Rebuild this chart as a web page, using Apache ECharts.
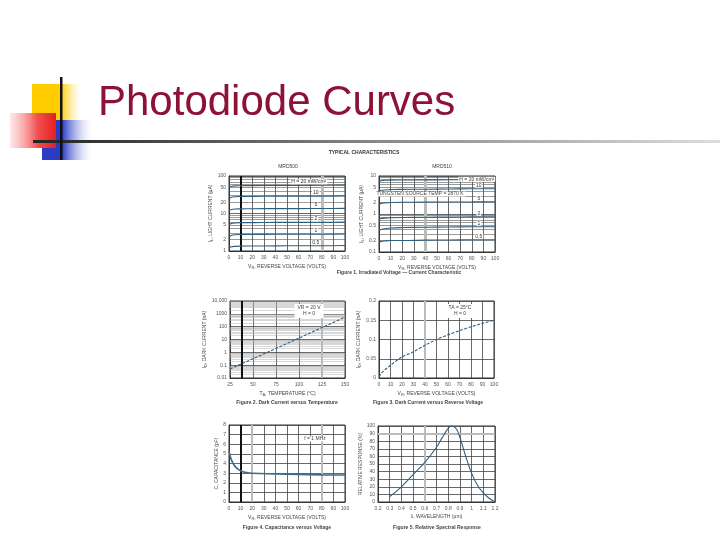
<!DOCTYPE html>
<html>
<head>
<meta charset="utf-8">
<script src="https://cdn.jsdelivr.net/npm/echarts@6/dist/echarts.min.js"></script>
<style>
  html, body { margin: 0; background: #fff; }
  #main { width: 720px; height: 540px; }
</style>
</head>
<body>
<div id="main"></div>
<script>
// Figure 1: light current vs reverse voltage (MRD500 / MRD510)
const vIrr = [0, 2, 5, 10, 20, 40, 60, 80, 100];
const irrNames = ['H = 20 mW/cm²', '10', '5', '2', '1', '0.5'];
const light500 = [
  [50, 53, 54.5, 55, 55.5, 56, 56, 56.5, 57],
  [25, 27, 28, 28.5, 28.5, 29, 29, 29, 29.5],
  [12, 12.8, 13.2, 13.3, 13.4, 13.5, 13.5, 13.6, 13.7],
  [5.0, 5.4, 5.6, 5.7, 5.7, 5.8, 5.8, 5.8, 5.9],
  [2.4, 2.6, 2.7, 2.75, 2.75, 2.8, 2.8, 2.8, 2.85],
  [1.2, 1.3, 1.33, 1.35, 1.36, 1.37, 1.38, 1.38, 1.4]
];
const light510 = [
  [7.0, 7.5, 7.7, 7.8, 7.85, 7.9, 7.95, 8.0, 8.0],
  [4.0, 4.2, 4.3, 4.4, 4.45, 4.5, 4.55, 4.6, 4.6],
  [1.8, 1.9, 1.95, 2.0, 2.03, 2.05, 2.07, 2.08, 2.1],
  [0.72, 0.76, 0.78, 0.8, 0.81, 0.82, 0.83, 0.84, 0.85],
  [0.37, 0.39, 0.41, 0.43, 0.44, 0.45, 0.455, 0.46, 0.46],
  [0.18, 0.19, 0.195, 0.2, 0.2, 0.205, 0.207, 0.21, 0.21]
];
const ticks500 = [1, 2, 5, 10, 20, 50, 100];
const ticks510 = [0.1, 0.2, 0.5, 1, 2, 5, 10];
const ticksDark = [0.01, 0.1, 1, 10, 100, 1000, 10000];

// Figure 2: dark current vs temperature
const temps = [25, 50, 75, 100, 125, 150];
const darkVsTemp = [0.05, 0.32, 2.0, 13, 85, 550];

// Figure 3: dark current vs reverse voltage
const vDark = [0, 2, 5, 10, 20, 30, 40, 50, 60, 70, 80, 90, 100];
const darkVsV = [0.003, 0.012, 0.021, 0.033, 0.055, 0.068, 0.085, 0.1, 0.112, 0.123, 0.133, 0.142, 0.15];

// Figure 4: capacitance vs voltage
const vCap = [0, 1, 2, 4, 6, 8, 10, 15, 20, 40, 60, 80, 100];
const capacitance = [5.3, 4.8, 4.4, 3.9, 3.6, 3.4, 3.25, 3.05, 2.98, 2.92, 2.87, 2.82, 2.8];

// Figure 5: relative spectral response
const wavelength = [0.3, 0.4, 0.5, 0.6, 0.7, 0.75, 0.8, 0.83, 0.87, 0.9, 0.95, 1.0, 1.05, 1.1, 1.15, 1.2];
const response = [7, 20, 36, 52, 72, 85, 97, 100, 96, 85, 60, 38, 22, 12, 5, 0];

const FONT = 'Liberation Sans';
const INK = '#444';
const CURVE = '#2f5f7f';

const grids = [
  { left: 229, top: 176, width: 116, height: 75 },
  { left: 379, top: 176, width: 116, height: 76 },
  { left: 230, top: 301, width: 115, height: 77 },
  { left: 379, top: 301, width: 115, height: 77 },
  { left: 229, top: 425, width: 116, height: 77 },
  { left: 378, top: 426, width: 117, height: 76 }
].map(g => ({ ...g, show: true, borderColor: '#333', borderWidth: 1 }));

const small = { fontSize: 5, color: '#555', fontFamily: FONT };
const nameStyle = {
  fontSize: 5, color: INK, fontFamily: FONT,
  rich: { s: { fontSize: 4, color: INK, fontFamily: FONT, padding: [3, 0, 0, 0] } }
};

function xAx(i, min, max, interval, name) {
  return {
    gridIndex: i, type: 'value', min, max, interval,
    name, nameLocation: 'middle', nameGap: 12, nameTextStyle: nameStyle,
    axisLine: { lineStyle: { color: '#333' } }, axisTick: { show: false },
    axisLabel: { ...small, margin: 4, formatter: v => String(+v.toFixed(2)) },
    splitLine: { show: true, lineStyle: { color: '#444', width: 0.8 } }
  };
}
function yAx(i, opts, name, gap, ticks) {
  const label = { ...small, margin: 3 };
  if (ticks) {
    // log axes: only decade ticks come from the axis, the rest from markLine labels
    label.formatter = v => {
      const r = +v.toPrecision(3);
      if (!ticks.includes(r)) return '';
      return r >= 10000 ? r.toLocaleString('en-US') : String(r);
    };
  }
  return {
    gridIndex: i, ...opts,
    name, nameLocation: 'middle', nameGap: gap, nameRotate: 90, nameTextStyle: nameStyle,
    axisLine: { lineStyle: { color: '#333' } }, axisTick: { show: false },
    axisLabel: label,
    minorTick: { show: false }, minorSplitLine: { show: false },
    splitLine: { show: true, lineStyle: { color: '#444', width: 0.8 } }
  };
}

// extra horizontal log grid lines (2..9 per decade), labelled if listed in ticks
function minorLines(lo, hi, ticks, color, width) {
  const out = [];
  for (let d = lo; d < hi * 0.99; d *= 10) {
    for (let m = 2; m <= 9; m++) {
      const v = +(d * m).toPrecision(3);
      const lab = ticks.includes(v);
      out.push({
        yAxis: v,
        lineStyle: { color, width, type: 'solid' },
        label: lab ? { show: true, position: 'start', distance: 3, formatter: String(v), ...small } : { show: false }
      });
    }
  }
  return out;
}
function bands(list) {
  return list.map(b => ({
    [b.axis]: b.v,
    lineStyle: { color: b.c, width: b.w, type: 'solid' },
    label: { show: false }
  }));
}
function guide(i, data) {
  return {
    type: 'line', xAxisIndex: i, yAxisIndex: i, data: [], silent: true,
    markLine: { symbol: ['none', 'none'], silent: true, animation: false, data }
  };
}
function curve(i, xs, ys, opt = {}) {
  return {
    type: 'line', xAxisIndex: i, yAxisIndex: i, smooth: opt.smooth ?? 0.3,
    symbol: 'circle', symbolSize: 0.1, showSymbol: true, z: 5,
    itemStyle: { color: 'rgba(0,0,0,0)' },
    label: { show: false },
    lineStyle: { color: opt.color || CURVE, width: opt.width || 1.1, type: opt.type || 'solid' },
    data: xs.map((x, k) => {
      if (opt.labelAt === x) {
        return {
          value: [x, ys[k]],
          label: {
            show: true, position: 'top', distance: 1, formatter: opt.label,
            offset: opt.offset || [0, 0], fontSize: 5, color: '#333', fontFamily: FONT,
            backgroundColor: '#fff', padding: [0, 1]
          }
        };
      }
      return [x, ys[k]];
    })
  };
}

const series = [
  guide(0, minorLines(1, 100, ticks500, '#555', 0.6).concat(bands([
    { axis: 'xAxis', v: 10, c: '#111', w: 2 },
    { axis: 'xAxis', v: 80, c: '#bbb', w: 3 }
  ]))),
  guide(1, minorLines(0.1, 10, ticks510, '#555', 0.6).concat(bands([
    { axis: 'xAxis', v: 40, c: '#bbb', w: 3 }
  ]))),
  guide(2, minorLines(0.01, 10000, ticksDark, '#b0b0b0', 0.5).concat(bands([
    { axis: 'xAxis', v: 37.5, c: '#111', w: 2 },
    { axis: 'xAxis', v: 125, c: '#bbb', w: 2 }
  ]))),
  guide(3, bands([{ axis: 'xAxis', v: 40, c: '#bbb', w: 2 }])),
  guide(4, bands([
    { axis: 'xAxis', v: 10, c: '#111', w: 2 },
    { axis: 'xAxis', v: 20, c: '#bbb', w: 2 },
    { axis: 'xAxis', v: 80, c: '#bbb', w: 2 }
  ])),
  guide(5, bands([
    { axis: 'xAxis', v: 0.6, c: '#bbb', w: 2 },
    { axis: 'yAxis', v: 90, c: '#bbb', w: 2 }
  ]))
];

light500.forEach((ys, k) => {
  series.push(curve(0, vIrr, ys, { labelAt: 80, label: irrNames[k], offset: k === 0 ? [-13, 0] : [-6, 0] }));
});
light510.forEach((ys, k) => {
  series.push(curve(1, vIrr, ys, { labelAt: 80, label: irrNames[k], offset: k === 0 ? [5, 3] : [7, 0] }));
});
series.push(curve(2, temps, darkVsTemp, { smooth: false, type: [3, 1.5] }));
series.push(curve(3, vDark, darkVsV, { type: [3, 1.5] }));
series.push(curve(4, vCap, capacitance, { color: '#3d6d87', width: 1.6, smooth: 0.4 }));
series.push(curve(5, wavelength, response, { smooth: 0.4 }));

function txt(x, y, text, o = {}) {
  return {
    type: 'text', x, y, z: 20,
    style: {
      text, fontSize: o.size || 5, fontFamily: FONT, fill: o.fill || INK,
      fontWeight: o.bold ? 'bold' : 'normal',
      align: o.align || 'center', verticalAlign: 'middle',
      backgroundColor: o.bg, padding: o.pad, lineHeight: o.lh
    }
  };
}

const graphic = [
  // slide decoration
  { type: 'rect', shape: { x: 32, y: 84, width: 48, height: 36 },
    style: { fill: new echarts.graphic.LinearGradient(0, 0, 1, 0, [
      { offset: 0, color: '#FFCC00' }, { offset: 0.6, color: '#FFCC00' }, { offset: 1, color: 'rgba(255,230,120,0)' }]) } },
  { type: 'rect', shape: { x: 42, y: 120, width: 50, height: 40 },
    style: { fill: new echarts.graphic.LinearGradient(0, 0, 1, 0, [
      { offset: 0, color: '#2B3BC4' }, { offset: 0.4, color: '#2B3BC4' }, { offset: 1, color: 'rgba(200,205,240,0)' }]) } },
  { type: 'rect', shape: { x: 10, y: 113, width: 46, height: 35 },
    style: { fill: new echarts.graphic.LinearGradient(0, 0, 1, 0, [
      { offset: 0, color: 'rgba(255,215,215,0.6)' }, { offset: 0.6, color: '#F05050' }, { offset: 1, color: '#E51E1E' }]) } },
  { type: 'rect', shape: { x: 33, y: 140, width: 687, height: 3 },
    style: { fill: new echarts.graphic.LinearGradient(0, 0, 1, 0, [
      { offset: 0, color: '#222' }, { offset: 0.5, color: '#888' }, { offset: 1, color: '#ddd' }]) } },
  { type: 'rect', shape: { x: 60, y: 77, width: 2.5, height: 83 }, style: { fill: '#111' } },
  txt(98, 103, 'Photodiode Curves', { size: 42, fill: '#8C1238', align: 'left' }),

  // datasheet headings
  txt(364, 153, 'TYPICAL CHARACTERISTICS', { bold: true, fill: '#333' }),
  txt(288, 167, 'MRD500'),
  txt(442, 167, 'MRD510'),
  txt(420, 194, 'TUNGSTEN SOURCE TEMP = 2870 K', { bg: '#fff', pad: [0, 2] }),
  txt(309, 311, 'VR = 20 V\nH = 0', { bg: '#fff', pad: [1, 3], lh: 6 }),
  txt(460, 311, 'TA = 25°C\nH = 0', { bg: '#fff', pad: [1, 3], lh: 6 }),
  txt(315, 439, 'f = 1 MHz', { bg: '#fff', pad: [0, 2] }),

  // captions
  txt(399, 273, 'Figure 1. Irradiated Voltage — Current Characteristic', { bold: true }),
  txt(287, 403, 'Figure 2. Dark Current versus Temperature', { bold: true }),
  txt(428, 403, 'Figure 3. Dark Current versus Reverse Voltage', { bold: true }),
  txt(287, 528, 'Figure 4. Capacitance versus Voltage', { bold: true }),
  txt(437, 528, 'Figure 5. Relative Spectral Response', { bold: true })
];

const option = {
  animation: false,
  backgroundColor: '#fff',
  textStyle: { fontFamily: FONT },
  grid: grids,
  xAxis: [
    xAx(0, 0, 100, 10, 'V{s|R}, REVERSE VOLTAGE (VOLTS)'),
    xAx(1, 0, 100, 10, 'V{s|R}, REVERSE VOLTAGE (VOLTS)'),
    xAx(2, 25, 150, 25, 'T{s|A}, TEMPERATURE (°C)'),
    xAx(3, 0, 100, 10, 'V{s|R}, REVERSE VOLTAGE (VOLTS)'),
    xAx(4, 0, 100, 10, 'V{s|R}, REVERSE VOLTAGE (VOLTS)'),
    xAx(5, 0.2, 1.2, 0.1, 'λ, WAVELENGTH (μm)')
  ],
  yAxis: [
    yAx(0, { type: 'log', logBase: 10, min: 1, max: 100 }, 'I{s|L}, LIGHT CURRENT (μA)', 11, [1, 10, 100]),
    yAx(1, { type: 'log', logBase: 10, min: 0.1, max: 10 }, 'I{s|L}, LIGHT CURRENT (μA)', 12, [0.1, 1, 10]),
    yAx(2, { type: 'log', logBase: 10, min: 0.01, max: 10000 }, 'I{s|D}, DARK CURRENT (nA)', 14, ticksDark),
    yAx(3, { type: 'value', min: 0, max: 0.2, interval: 0.05 }, 'I{s|D}, DARK CURRENT (nA)', 12),
    yAx(4, { type: 'value', min: 0, max: 8, interval: 1 }, 'C, CAPACITANCE (pF)', 10),
    yAx(5, { type: 'value', min: 0, max: 100, interval: 10 }, 'RELATIVE RESPONSE (%)', 11)
  ],
  series,
  graphic
};

const chart = echarts.init(document.getElementById('main'), null, { renderer: 'canvas' });
chart.setOption(option);
</script>
</body>
</html>
